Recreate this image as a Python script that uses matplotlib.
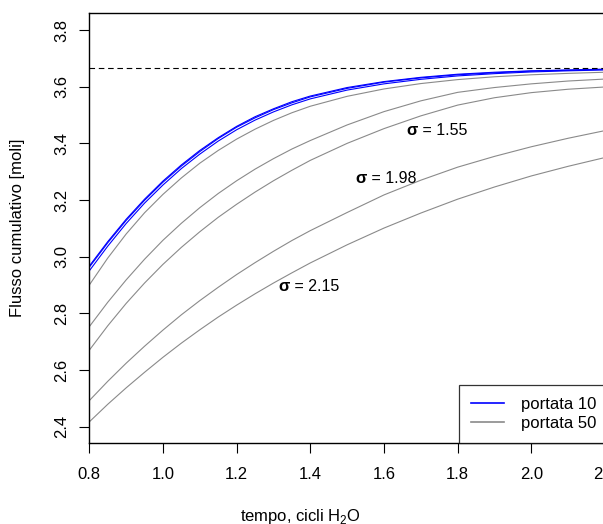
import matplotlib
matplotlib.use('Agg')
import matplotlib.pyplot as plt
from matplotlib.lines import Line2D

# tempo in cicli H2O (letture piu' fitte dove le curve piegano di piu')
tempo = [0.8, 0.85, 0.9, 0.95, 1.0, 1.05, 1.1, 1.15, 1.2, 1.25, 1.3, 1.35, 1.4,
         1.5, 1.6, 1.7, 1.8, 1.9, 2.0, 2.1, 2.2]

# portata 10 (curve blu, quasi sovrapposte)
blu1 = [2.967, 3.053, 3.132, 3.203, 3.267, 3.324, 3.375, 3.420, 3.460, 3.494, 3.522, 3.547, 3.567,
        3.597, 3.618, 3.633, 3.644, 3.651, 3.656, 3.659, 3.662]
blu2 = [2.963, 3.049, 3.128, 3.199, 3.263, 3.320, 3.371, 3.417, 3.457, 3.490, 3.519, 3.543, 3.564,
        3.594, 3.616, 3.631, 3.642, 3.649, 3.655, 3.658, 3.661]
blu3 = [2.950, 3.037, 3.117, 3.189, 3.253, 3.311, 3.362, 3.408, 3.448, 3.482, 3.511, 3.536, 3.557,
        3.588, 3.610, 3.626, 3.638, 3.646, 3.652, 3.656, 3.659]

# portata 50 (curve grigie)
grigio1 = [2.900, 2.995, 3.080, 3.155, 3.220, 3.278, 3.330, 3.375, 3.415, 3.450, 3.481, 3.508, 3.531,
           3.566, 3.592, 3.611, 3.625, 3.635, 3.642, 3.647, 3.651]
grigio2 = [2.753, 2.839, 2.918, 2.991, 3.058, 3.118, 3.173, 3.223, 3.268, 3.309, 3.346, 3.380, 3.410,
           3.465, 3.512, 3.550, 3.580, 3.597, 3.610, 3.620, 3.627]
grigio3 = [2.670, 2.756, 2.835, 2.907, 2.973, 3.033, 3.088, 3.139, 3.185, 3.228, 3.268, 3.305, 3.340,
           3.400, 3.452, 3.497, 3.535, 3.561, 3.579, 3.591, 3.599]
grigio4 = [2.492, 2.560, 2.624, 2.684, 2.741, 2.795, 2.845, 2.892, 2.937, 2.979, 3.019, 3.057, 3.092,
           3.156, 3.218, 3.270, 3.316, 3.354, 3.388, 3.418, 3.445]
grigio5 = [2.417, 2.479, 2.537, 2.592, 2.645, 2.695, 2.742, 2.787, 2.829, 2.869, 2.907, 2.943, 2.978,
           3.042, 3.101, 3.154, 3.203, 3.246, 3.285, 3.319, 3.350]

# valore asintotico (linea tratteggiata)
asintoto = 3.667

xticks = [0.8, 1.0, 1.2, 1.4, 1.6, 1.8, 2.0, 2.2]
yticks = [2.4, 2.6, 2.8, 3.0, 3.2, 3.4, 3.6, 3.8]
sigma_labels = ['1.55', '1.98', '2.15']

plt.rcParams['font.family'] = ['Liberation Sans', 'DejaVu Sans']
plt.rcParams['mathtext.fontset'] = 'custom'
plt.rcParams['mathtext.rm'] = 'Liberation Sans'
plt.rcParams['lines.scale_dashes'] = False

fig = plt.figure(figsize=(6.03, 5.24), dpi=100)
# the plot region runs a little past the right edge of the picture
ax = fig.add_axes([89.3 / 603, 81.3 / 524, 515.7 / 603, 429.4 / 524])

grigio = '#8a8a8a'
for curva in [grigio1, grigio2, grigio3, grigio4, grigio5]:
    ax.plot(tempo, curva, color=grigio, lw=0.8)
for curva in [blu1, blu2, blu3]:
    ax.plot(tempo, curva, color='#0000ff', lw=0.8)
ax.axhline(asintoto, color='black', lw=0.8, ls=(0, (4, 2.7)))

ax.set_xlim(0.8, 2.2)
ax.set_ylim(2.3435, 3.859)
ax.set_xticks(xticks)
ax.set_xticklabels(['%.1f' % v for v in xticks])
ax.set_yticks(yticks)
ax.set_yticklabels(['%.1f' % v for v in yticks], rotation=90, va='center')
ax.tick_params(axis='both', direction='out', length=7.2, width=0.8, labelsize=12, color='black')
ax.tick_params(axis='x', pad=10)
ax.tick_params(axis='y', pad=7.5)
for s in ax.spines.values():
    s.set_linewidth(1.0)

# etichette sigma
sigma_pos = [(1.693, 3.447), (1.553, 3.276), (1.345, 2.894)]
for (x, y), lab in zip(sigma_pos, sigma_labels):
    ax.text(x, y, 'σ', fontsize=12, fontweight='bold', ha='right', va='center')
    ax.text(x, y, ' = ' + lab, fontsize=11.5, ha='left', va='center')

# legenda
handles = [Line2D([], [], color='#0000ff', lw=1.2), Line2D([], [], color=grigio, lw=1.2)]
leg = ax.legend(handles, ['portata 10', 'portata 50'], loc='lower left',
                bbox_to_anchor=(0.7175, 0.0), fontsize=12, frameon=True, fancybox=False,
                borderpad=0.7, handlelength=2.0, handletextpad=1.0, labelspacing=0.25,
                borderaxespad=0.0)
leg.get_frame().set_edgecolor('black')
leg.get_frame().set_linewidth(0.9)

fig.text(300 / 603, 1 - 516 / 524, 'tempo, cicli H$_{\\mathrm{2}}$O', fontsize=12, ha='center', va='center')
fig.text(18 / 603, 1 - 228 / 524, 'Flusso cumulativo [moli]', fontsize=12, rotation=90, ha='center', va='center')

fig.savefig('out.png', dpi=100)
